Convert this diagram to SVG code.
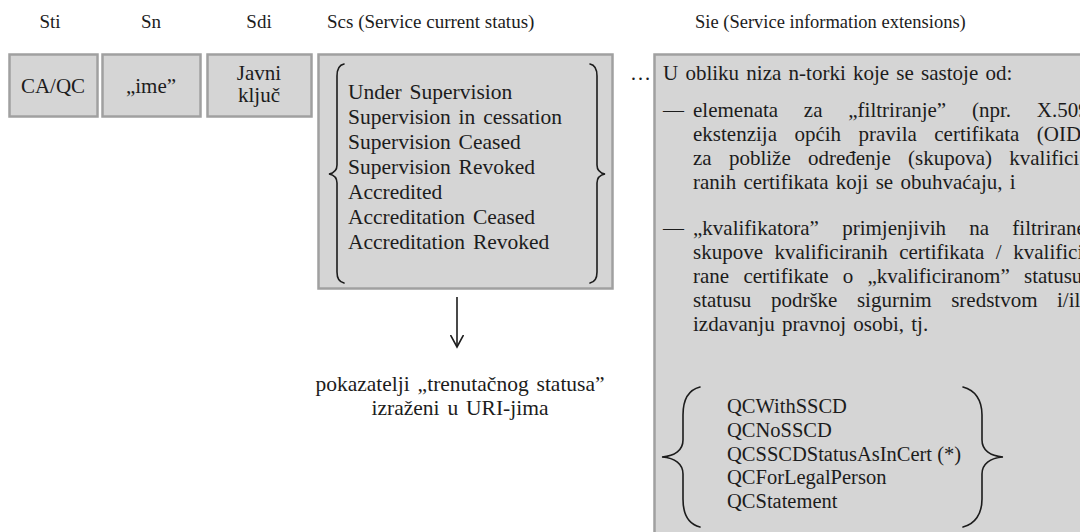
<svg xmlns="http://www.w3.org/2000/svg" width="1080" height="532" viewBox="0 0 1080 532">
  <style>
    text { font-family: 'Liberation Serif', 'DejaVu Serif', serif; fill: #1c1c1c; }
    .box { fill: #d5d5d5; stroke: #a0a0a0; stroke-width: 2.5; }
    .hdr { font-size: 19px; }
    .txt { font-size: 21px; word-spacing: 2px; }
    .big { font-size: 21.5px; word-spacing: 2.5px; }
    .qc  { font-size: 20.5px; }
    .mid { text-anchor: middle; }
    .brace { fill: none; stroke: #1c1c1c; stroke-width: 1.6; stroke-linecap: round; }
    .conn { fill: none; stroke: #1c1c1c; stroke-width: 1.6; }
  </style>
  <defs>
    <marker id="chevron" viewBox="0 0 14 14" refX="12.5" refY="7" markerWidth="14" markerHeight="14" markerUnits="userSpaceOnUse" orient="auto">
      <path d="M 0.5 0.5 L 12.5 7 L 0.5 13.5" fill="none" stroke="#1c1c1c" stroke-width="1.6"/>
    </marker>
  </defs>

  <rect width="1080" height="532" fill="#ffffff"/>

  <!-- column headings -->
  <g id="headings">
    <text class="hdr mid" x="50" y="28">Sti</text>
    <text class="hdr mid" x="151" y="28">Sn</text>
    <text class="hdr mid" x="259" y="28">Sdi</text>
    <text class="hdr" x="327" y="28">Scs (Service current status)</text>
    <text class="hdr" x="695" y="28" style="font-size:18.5px">Sie (Service information extensions)</text>
  </g>

  <!-- service type identifier -->
  <g id="sti">
    <rect class="box" x="9.5" y="54.5" width="88" height="62"/>
    <text class="txt mid" x="53" y="93">CA/QC</text>
  </g>

  <!-- service name -->
  <g id="sn">
    <rect class="box" x="102.5" y="54.5" width="98" height="62"/>
    <text class="txt mid" x="151" y="93">„ime”</text>
  </g>

  <!-- service digital identity -->
  <g id="sdi">
    <rect class="box" x="207.5" y="54.5" width="104" height="62"/>
    <text class="txt mid" x="259" y="80">Javni</text>
    <text class="txt mid" x="259" y="102">ključ</text>
  </g>

  <!-- service current status -->
  <g id="scs">
    <rect class="box" x="318.5" y="54.5" width="294" height="234"/>
    <path class="brace" d="M 344 64 C 339 65, 337 69, 337 76 L 337 165 C 337 170, 334 173, 329 174 C 334 175, 337 178, 337 183 L 337 272 C 337 279, 339 282, 344 283"/>
    <path class="brace" d="M 590 64 C 595 65, 597 69, 597 76 L 597 165 C 597 170, 600 173, 605 174 C 600 175, 597 178, 597 183 L 597 272 C 597 279, 595 282, 590 283"/>
    <text class="big" x="348" y="99">Under Supervision</text>
    <text class="big" x="348" y="124">Supervision in cessation</text>
    <text class="big" x="348" y="149">Supervision Ceased</text>
    <text class="big" x="348" y="174">Supervision Revoked</text>
    <text class="big" x="348" y="199">Accredited</text>
    <text class="big" x="348" y="223.5">Accreditation Ceased</text>
    <text class="big" x="348" y="248.5">Accreditation Revoked</text>
  </g>

  <!-- ellipsis between columns -->
  <text class="txt" x="630" y="80">…</text>

  <!-- service information extensions -->
  <g id="sie">
    <rect class="box" x="654.5" y="54.5" width="440" height="490"/>
    <text class="txt" x="663" y="80">U obliku niza n-torki koje se sastoje od:</text>
    <text class="txt" x="663" y="117">—</text>
    <text class="txt" x="693" y="117" style="word-spacing:20.5px">elemenata za „filtriranje” (npr. X.509</text>
    <text class="txt" x="693" y="141" style="word-spacing:12.2px">ekstenzija općih pravila certifikata (OID)</text>
    <text class="txt" x="693" y="165" style="word-spacing:12px">za pobliže određenje (skupova) kvalifici</text>
    <text class="txt" x="693" y="189">ranih certifikata koji se obuhvaćaju, i</text>
    <text class="txt" x="663" y="235">—</text>
    <text class="txt" x="693" y="235" style="word-spacing:18px">„kvalifikatora” primjenjivih na filtrirane</text>
    <text class="txt" x="693" y="259" style="word-spacing:6.3px">skupove kvalificiranih certifikata / kvalifici</text>
    <text class="txt" x="693" y="283" style="word-spacing:9px">rane certifikate o „kvalificiranom” statusu</text>
    <text class="txt" x="693" y="307" style="word-spacing:14.3px">statusu podrške sigurnim sredstvom i/ili</text>
    <text class="txt" x="693" y="331">izdavanju pravnoj osobi, tj.</text>
    <path class="brace" d="M 700 387 C 688 390, 683 400, 683 415 L 683 440 C 683 450, 675 456, 662 457 C 675 458, 683 464, 683 474 L 683 499 C 683 514, 688 524, 700 527"/>
    <path class="brace" d="M 963 387 C 975 390, 982 400, 982 415 L 982 440 C 982 450, 990 456, 1003 457 C 990 458, 982 464, 982 474 L 982 499 C 982 514, 975 524, 963 527"/>
    <text class="qc" x="727" y="413">QCWithSSCD</text>
    <text class="qc" x="727" y="437">QCNoSSCD</text>
    <text class="qc" x="727" y="460.5">QCSSCDStatusAsInCert (*)</text>
    <text class="qc" x="727" y="484">QCForLegalPerson</text>
    <text class="qc" x="727" y="508">QCStatement</text>
  </g>

  <!-- status indicators note -->
  <g id="note">
    <text class="big mid" x="460" y="391">pokazatelji „trenutačnog statusa”</text>
    <text class="big mid" x="460" y="415">izraženi u URI-jima</text>
  </g>

  <g id="connectors">
    <line class="conn" x1="457" y1="297" x2="457" y2="347" marker-end="url(#chevron)"/>
  </g>
</svg>
